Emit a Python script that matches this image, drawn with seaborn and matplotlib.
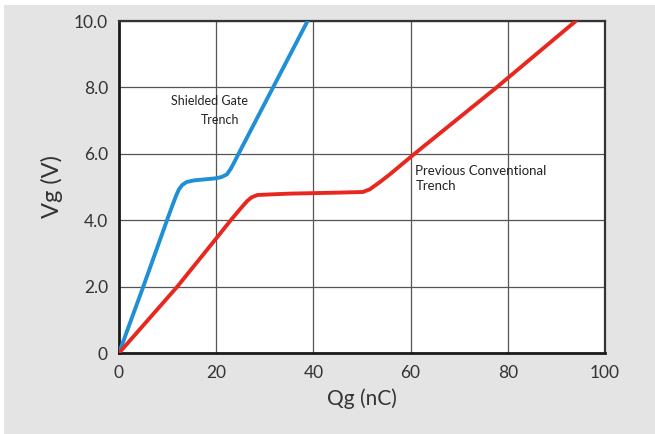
import matplotlib
matplotlib.use("Agg")
import matplotlib.pyplot as plt
from matplotlib.patches import Rectangle
import pandas as pd
import seaborn as sns

# Gate charge curves: gate charge Qg (nC) vs gate voltage Vg (V)
shielded_qg = [0, 5, 10, 11.0, 11.7, 12.3, 13.0, 13.9, 15.5, 19.8, 21.1, 22.2, 23.0, 23.8, 24.6, 31.7, 38.8]
shielded_vg = [0, 2.0, 4.05, 4.45, 4.72, 4.92, 5.06, 5.15, 5.2, 5.26, 5.3, 5.38, 5.55, 5.77, 6.0, 8.0, 10.0]

conventional_qg = [0, 12, 20, 23, 24.6, 25.6, 26.4, 27.3, 28.5, 35, 45, 50.2, 51.6, 53.7, 55.8, 60.8, 77.7, 94]
conventional_vg = [0, 2.0, 3.45, 4.0, 4.28, 4.45, 4.58, 4.69, 4.76, 4.8, 4.83, 4.85, 4.93, 5.15, 5.39, 6.0, 8.0, 10.0]

x_ticks = [0, 20, 40, 60, 80, 100]
y_ticks = [0, 2, 4, 6, 8, 10]
y_tick_labels = ["0", "2.0", "4.0", "6.0", "8.0", "10.0"]

df = pd.concat([
    pd.DataFrame({"Qg": shielded_qg, "Vg": shielded_vg, "device": "Shielded Gate Trench"}),
    pd.DataFrame({"Qg": conventional_qg, "Vg": conventional_vg, "device": "Previous Conventional Trench"}),
])

sns.set_theme(style="white")
plt.rcParams["font.family"] = ["Lato", "DejaVu Sans"]

fig = plt.figure(figsize=(6.55, 4.34), dpi=100, facecolor="white")
fig.patches.append(Rectangle((4 / 655, 0), 1, 1 - 5 / 434, transform=fig.transFigure,
                             facecolor="#e4e4e4", edgecolor="none", zorder=-10))
ax = fig.add_axes([119 / 655, 1 - 353 / 434, (605 - 119) / 655, (353 - 21) / 434])
ax.set_facecolor("white")

sns.lineplot(data=df, x="Qg", y="Vg", hue="device", sort=False, estimator=None,
             palette={"Shielded Gate Trench": "#1f8fd6",
                      "Previous Conventional Trench": "#e8281e"},
             linewidth=2.8, legend=False, ax=ax, zorder=3)
for line in ax.get_lines():
    line.set_solid_joinstyle("round")
    line.set_solid_capstyle("round")

ax.set_xlim(0, 100)
ax.set_ylim(0, 10)
ax.set_xticks(x_ticks)
ax.set_yticks(y_ticks)
ax.set_yticklabels(y_tick_labels)
ax.grid(True, color="#555555", linewidth=0.9)
ax.set_axisbelow(True)
ax.tick_params(axis="both", length=0, labelsize=12.5, labelcolor="#333333")
ax.tick_params(axis="x", pad=9)
ax.tick_params(axis="y", pad=8)
for side in ["left", "bottom"]:
    ax.spines[side].set_linewidth(2.0)
    ax.spines[side].set_color("#1a1a1a")
for side in ["top", "right"]:
    ax.spines[side].set_linewidth(1.6)
    ax.spines[side].set_color("#333333")
    ax.spines[side].set_visible(True)

ax.set_xlabel("Qg (nC)", fontsize=15, color="#333333", labelpad=5)
ax.set_ylabel("Vg (V)", fontsize=17, color="#333333", labelpad=8)

ax.text(18.6, 7.59, "Shielded Gate", fontsize=9, color="#222222", ha="center", va="center")
ax.text(20.8, 7.02, "Trench", fontsize=9, color="#222222", ha="center", va="center")
ax.text(61, 5.25, "Previous Conventional\nTrench", fontsize=9.5, color="#222222",
        ha="left", va="center", linespacing=1.35)

fig.savefig("out.png", dpi=100, facecolor=fig.get_facecolor())
